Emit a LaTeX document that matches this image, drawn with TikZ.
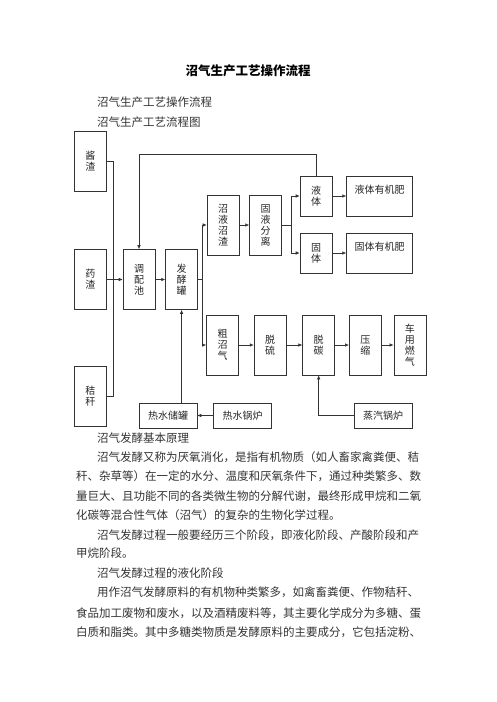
\documentclass[tikz,border=0pt]{standalone}
\usepackage{fontspec}
\setmainfont{Noto Sans CJK SC}
\usetikzlibrary{arrows.meta, positioning}
\tikzset{
    box/.style={draw=black!80, line width=0.6pt, fill=white, align=center, inner sep=0pt, font=\fontsize{10}{11}\selectfont, text=black!85},
    vbox/.style={box, minimum width=32pt, minimum height=60pt},
    sbox/.style={box, minimum width=32pt, minimum height=40pt},
    wbox/.style={box, minimum width=66pt, minimum height=40pt},
    hbox/.style={box, minimum width=58pt, minimum height=25pt},
    arrow/.style={-{Latex[length=4pt,width=3.5pt]}, line width=0.6pt, black!80},
    line/.style={line width=0.6pt, black!80},
    txt/.style={anchor=west, inner sep=0pt, font=\fontsize{11.5}{14}\selectfont, text=black!80}
}

\begin{document}
\begin{tikzpicture}[x=1pt, y=-1pt]
        \useasboundingbox (0,0) rectangle (496,702);

        % Headings
        \node [inner sep=0pt, font=\fontsize{12.5}{14}\selectfont\bfseries] (title) at (248,71) {沼气生产工艺操作流程};
        \node [txt] (h1) at (97,102) {沼气生产工艺操作流程};
        \node [txt] (h2) at (97,122) {沼气生产工艺流程图};

        % Feed and digester
        \node [vbox] (tp) at (139,279.5) {调\\配\\池};
        \node [vbox, right=10pt of tp] (fj) {发\\酵\\罐};
        \node [vbox, left=16pt of tp] (yz) {药\\渣};
        \node [vbox, above=58pt of yz] (jz) {酱\\渣};
        \node [vbox, below=56pt of yz] (jg) {秸\\秆};
        \coordinate (hub) at (113,279.5);

        \draw [line] (jz.east) -| (hub);
        \draw [line] (jg.east) -| (hub);
        \draw [arrow] (yz.east) -- (tp.west);
        \draw [arrow] (tp) -- (fj);

        % Slurry branch
        \node [vbox] (zyzz) at (223,225) {沼\\液\\沼\\渣};
        \node [vbox, right=10pt of zyzz] (gyfl) {固\\液\\分\\离};
        \node [sbox] (yt) at (316,196) {液\\体};
        \node [sbox] (gt) at (316,253) {固\\体};
        \node [wbox, right=14pt of yt] (yf) {液体有机肥\\[2pt]~};
        \node [wbox, right=14pt of gt] (gf) {固体有机肥\\[2pt]~};

        % Gas branch
        \node [vbox] (czq) at (222.5,345) {粗\\沼\\气};
        \node [vbox, right=15pt of czq] (ts) {脱\\硫};
        \node [vbox, right=16pt of ts] (tt) {脱\\碳};
        \node [vbox, right=14pt of tt] (ys) {压\\缩};
        \node [vbox, right=12pt of ys] (cy) {车\\用\\燃\\气};

        % Heat supply
        \node [hbox] (rscg) at (168,415.5) {热水储罐};
        \node [hbox, right=16pt of rscg] (rsgl) {热水锅炉};
        \node [hbox] (zqgl) at (383,415.5) {蒸汽锅炉};

        \draw [line] (fj.east) -- ++(4,0) coordinate (fjr);
        \draw [arrow] (fjr) |- (zyzz.west);
        \draw [arrow] (fjr) |- (czq.west);
        \draw [arrow] (zyzz) -- (gyfl);
        \draw [line] (gyfl.east) -- ++(9,0) coordinate (gyr);
        \draw [arrow] (gyr) |- (yt.west);
        \draw [arrow] (gyr) |- (gt.west);
        \draw [arrow] (yt) -- (yf);
        \draw [arrow] (gt) -- (gf);
        \draw [arrow] (yt.north) -- ++(0,-21) -| (tp.north);

        \draw [arrow] (czq) -- (ts);
        \draw [arrow] (ts) -- (tt);
        \draw [arrow] (tt) -- (ys);
        \draw [arrow] (ys) -- (cy);
        \draw [arrow] (zqgl.west) -| (tt.south);
        \draw [arrow] (rsgl) -- (rscg);
        \draw [arrow] (rscg.north -| fj.south) -- (fj.south);

        % Body text
        \node [txt] (p0) at (97,438) {沼气发酵基本原理};
        \node [txt] (p1) at (97,457) {沼气发酵又称为厌氧消化，是指有机物质（如人畜家禽粪便、秸};
        \node [txt] (p2) at (76,476) {秆、杂草等）在一定的水分、温度和厌氧条件下，通过种类繁多、数};
        \node [txt] (p3) at (76,496) {量巨大、且功能不同的各类微生物的分解代谢，最终形成甲烷和二氧};
        \node [txt] (p4) at (76,515) {化碳等混合性气体（沼气）的复杂的生物化学过程。};
        \node [txt] (p5) at (97,535) {沼气发酵过程一般要经历三个阶段，即液化阶段、产酸阶段和产};
        \node [txt] (p6) at (76,553) {甲烷阶段。};
        \node [txt] (p7) at (97,573) {沼气发酵过程的液化阶段};
        \node [txt] (p8) at (97,592) {用作沼气发酵原料的有机物种类繁多，如禽畜粪便、作物秸秆、};
        \node [txt] (p9) at (76,613) {食品加工废物和废水，以及酒精废料等，其主要化学成分为多糖、蛋};
        \node [txt] (p10) at (76,632) {白质和脂类。其中多糖类物质是发酵原料的主要成分，它包括淀粉、};
    \end{tikzpicture}
\end{document}
